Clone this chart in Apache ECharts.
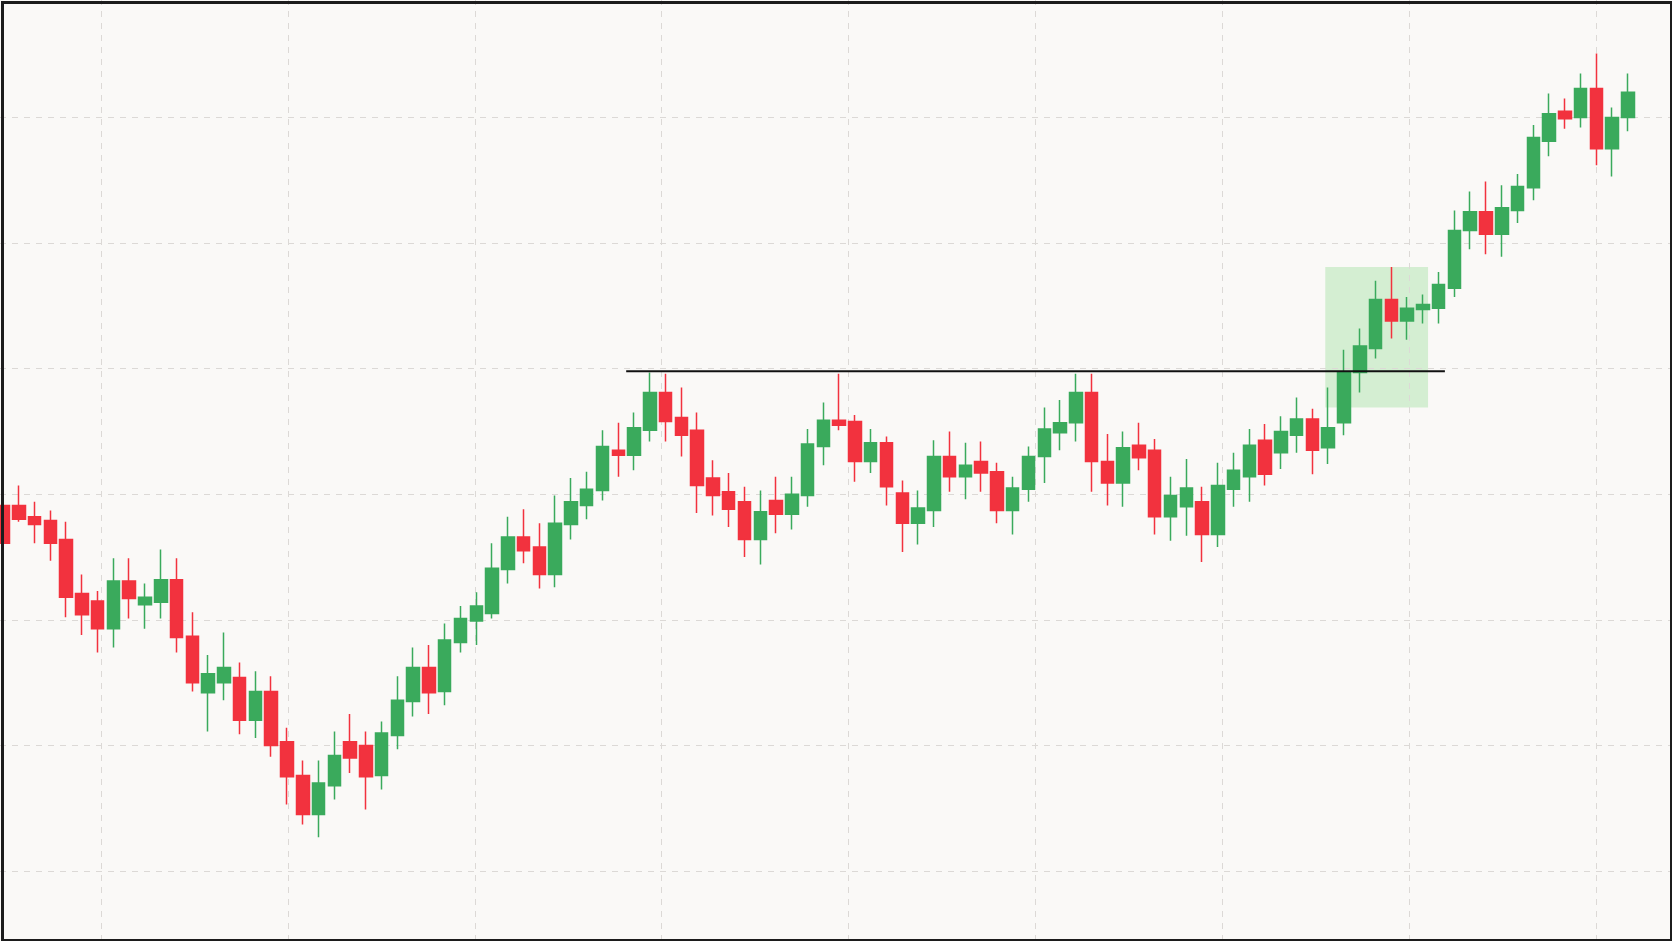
<!DOCTYPE html>
<html>
<head>
<meta charset="utf-8">
<script src="https://cdn.jsdelivr.net/npm/echarts@6/dist/echarts.min.js"></script>
<style>
  html, body { margin: 0; padding: 0; background: #faf9f7; }
  #chart { width: 1672px; height: 941px; }
</style>
</head>
<body>
<div id="chart"></div>
<script>
// candles: [open, close, low, high]
const candles = [
  [39.1,36.1,35.3,41.1],[39.1,38.0,37.8,40.7],[38.2,37.6,36.1,39.4],[37.9,36.1,34.7,38.7],
  [36.4,31.8,30.2,37.8],[32.1,30.4,28.8,33.6],[31.5,29.3,27.4,32.3],[29.3,33.1,27.8,34.9],
  [33.1,31.7,30.1,34.9],[31.2,31.8,29.3,32.9],[31.4,33.2,30.1,35.6],[33.2,28.6,27.4,34.9],
  [28.7,25.0,24.3,30.6],[24.2,25.7,21.1,27.2],[25.0,26.2,23.6,29.0],[25.4,22.0,20.9,26.6],
  [22.0,24.3,20.6,25.9],[24.3,20.0,19.1,25.5],[20.3,17.5,15.3,21.4],[17.6,14.5,13.7,18.8],
  [14.5,17.0,12.7,18.8],[16.8,19.2,15.7,21.1],[20.3,19.0,17.8,22.5],[20.0,17.5,14.9,21.1],
  [17.6,21.0,16.5,21.9],[20.8,23.6,19.7,25.5],[23.5,26.2,22.3,27.8],[26.2,24.2,22.5,28.0],
  [24.3,28.4,23.2,29.7],[28.2,30.1,27.4,31.1],[29.9,31.1,28.0,32.2],[30.5,34.1,30.1,36.1],
  [34.0,36.6,32.9,38.2],[36.6,35.5,34.5,38.8],[35.8,33.6,32.5,37.7],[33.6,37.7,32.6,39.9],
  [37.6,39.4,36.4,41.3],[39.1,40.4,38.0,41.8],[40.3,43.8,39.5,45.1],[43.5,43.1,41.4,45.7],
  [43.1,45.3,41.9,46.5],[45.1,48.1,44.2,49.7],[48.1,45.8,44.2,49.6],[46.1,44.7,43.0,48.5],
  [45.1,40.7,38.5,46.5],[41.3,39.9,38.3,42.7],[40.2,38.8,37.4,41.7],[39.4,36.4,35.0,40.6],
  [36.4,38.6,34.4,40.3],[39.5,38.4,36.9,41.4],[38.4,40.0,37.2,41.4],[39.9,44.0,39.0,45.2],
  [43.8,45.9,42.3,47.3],[45.9,45.5,45.1,49.6],[45.8,42.6,41.0,46.3],[42.6,44.1,41.7,45.2],
  [44.1,40.6,39.1,44.6],[40.1,37.7,35.4,41.1],[37.7,38.9,36.0,40.3],[38.7,43.0,37.4,44.3],
  [43.0,41.4,40.2,45.0],[41.4,42.3,39.6,44.1],[42.6,41.7,40.2,44.2],[41.8,38.7,37.7,42.5],
  [38.7,40.5,36.8,41.4],[40.4,43.0,39.4,43.8],[43.0,45.2,40.9,46.9],[44.9,45.7,43.5,47.5],
  [45.7,48.1,44.2,49.6],[48.1,42.6,40.2,49.6],[42.6,40.9,39.1,44.8],[40.9,43.7,39.0,45.0],
  [43.9,42.9,41.9,45.7],[43.5,38.2,36.8,44.4],[38.2,39.9,36.3,41.4],[39.0,40.5,36.7,42.8],
  [39.4,36.8,34.6,40.6],[36.8,40.7,35.8,42.5],[40.4,41.9,39.0,43.3],[41.4,43.9,39.4,45.2],
  [44.3,41.6,40.7,45.6],[43.3,45.0,42.0,46.2],[44.7,46.0,43.3,47.7],[46.0,43.5,41.6,46.8],
  [43.7,45.3,42.4,48.5],[45.7,49.7,44.7,51.5],[49.7,51.8,48.1,53.2],[51.6,55.5,50.8,57.0],
  [55.5,53.8,52.4,58.1],[53.8,54.8,52.3,55.7],[54.7,55.1,53.6,55.9],[54.8,56.7,53.6,57.7],
  [56.4,61.0,55.7,62.6],[61.0,62.5,59.5,64.1],[62.5,60.7,59.1,64.9],[60.7,62.8,58.9,64.6],
  [62.6,64.5,61.6,65.5],[64.4,68.4,63.4,69.4],[68.1,70.3,66.9,71.9],[70.5,69.9,69.1,71.5],
  [70.0,72.3,69.2,73.5],[72.3,67.5,66.2,75.1],[67.5,70.0,65.3,70.8],[70.0,72.0,68.9,73.5]
];
const categories = candles.map((_, i) => 'D' + (i + 1));

// axis ranges and gridline levels
const priceMin = 4.43, priceMax = 79.35;
const priceGridLevels = [10, 20, 30, 40, 50, 60, 70];
const timeMin = 0.46, timeMax = 9.405;
const timeGridLevels = [1, 2, 3, 4, 5, 6, 7, 8, 9];

// annotations (overlay axis units)
const resistanceLevel = 49.8;
const resistanceSpan = [3.81, 8.19];
const breakoutBoxX = [7.55, 8.10];
const breakoutBoxY = [46.9, 58.1];

const UP = '#3aaa5c';
const DOWN = '#f2323e';
const GRID_STYLE = { color: '#dcd9d6', type: [6, 6], width: 1 };
const hidden = { axisLine: { show: false }, axisTick: { show: false }, axisLabel: { show: false }, splitLine: { show: false } };

const chart = echarts.init(document.getElementById('chart'));
chart.setOption({
  animation: false,
  backgroundColor: '#faf9f7',
  grid: [
    { left: 3, right: 44, top: 0, bottom: 0 },
    { left: 0, right: 0, top: 0, bottom: 0 }
  ],
  xAxis: [
    Object.assign({ type: 'category', data: categories, gridIndex: 0, boundaryGap: false }, hidden),
    Object.assign({ type: 'value', gridIndex: 1, min: timeMin, max: timeMax }, hidden)
  ],
  yAxis: [
    Object.assign({ type: 'value', gridIndex: 0, min: priceMin, max: priceMax }, hidden),
    Object.assign({ type: 'value', gridIndex: 1, min: priceMin, max: priceMax }, hidden)
  ],
  series: [
    {
      type: 'line', xAxisIndex: 1, yAxisIndex: 1, silent: true,
      data: [], symbol: 'none',
      markLine: {
        silent: true, symbol: 'none', label: { show: false }, lineStyle: GRID_STYLE,
        data: priceGridLevels.map(v => ({ yAxis: v })).concat(timeGridLevels.map(v => ({ xAxis: v })))
      },
      markArea: {
        silent: true,
        itemStyle: { color: 'rgba(150, 220, 150, 0.38)' },
        data: [[{ coord: [breakoutBoxX[0], breakoutBoxY[0]] }, { coord: [breakoutBoxX[1], breakoutBoxY[1]] }]]
      }
    },
    {
      type: 'candlestick', xAxisIndex: 0, yAxisIndex: 0, zlevel: 1,
      data: candles, barWidth: 13,
      itemStyle: { color: UP, color0: DOWN, borderColor: UP, borderColor0: DOWN, borderWidth: 1.5 }
    },
    {
      type: 'line', xAxisIndex: 1, yAxisIndex: 1, zlevel: 2, silent: true,
      data: [[resistanceSpan[0], resistanceLevel], [resistanceSpan[1], resistanceLevel]],
      symbol: 'none', lineStyle: { color: '#111', width: 2 }
    }
  ],
  graphic: [{
    type: 'rect', left: 0, top: 0, z: 100, zlevel: 3, silent: true,
    shape: { x: 1.5, y: 1.5, width: 1669, height: 938 },
    style: { fill: 'none', stroke: '#1c1c1c', lineWidth: 3 }
  }]
});
</script>
</body>
</html>
